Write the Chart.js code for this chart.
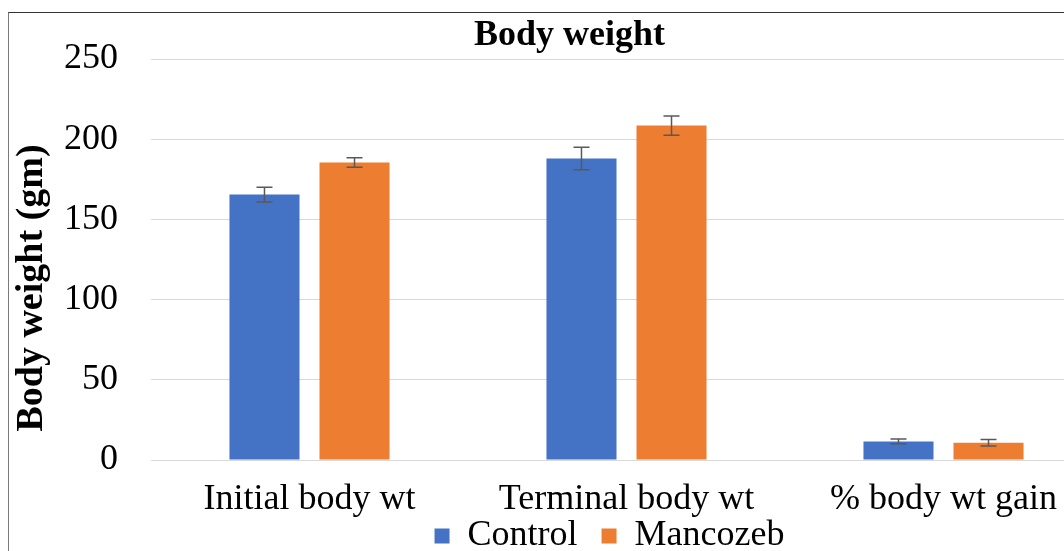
<!DOCTYPE html>
<html>
<head>
<meta charset="utf-8">
<title>Body weight</title>
<script src="https://cdn.jsdelivr.net/npm/chart.js@4.4.1/dist/chart.umd.min.js"></script>
<style>
    html, body { margin: 0; padding: 0; background: #fff; overflow: hidden; }
    #frame {
        position: absolute; left: 8px; top: 12px; width: 1200px; height: 700px;
        border-left: 1px solid #7a7a7a; border-top: 1px solid #333;
    }
    #weightChart { position: absolute; left: 0; top: 0; }
</style>
</head>
<body>
<div id="frame"></div>
<canvas id="weightChart" width="1139" height="590"></canvas>
<script>
// data
const categories = ["Initial body wt", "Terminal body wt", "% body wt gain"];
const controlValues = [165.5, 188, 11.6];
const controlErrors = [4.6, 7, 1.5];
const mancozebValues = [185.5, 208.5, 10.8];
const mancozebErrors = [3, 6, 2];
const yMin = 0;
const yMax = 250;
const yStep = 50;

const FONT = "'Liberation Serif', 'Times New Roman', serif";

// draws the +/- whiskers on top of each bar
const errorBars = {
    id: "errorBars",
    afterDatasetsDraw(chart) {
        const ctx = chart.ctx;
        const yScale = chart.scales.y;
        ctx.save();
        ctx.strokeStyle = "#595959";
        ctx.lineWidth = 1.5;
        chart.data.datasets.forEach((ds, i) => {
            const meta = chart.getDatasetMeta(i);
            meta.data.forEach((bar, j) => {
                const top = yScale.getPixelForValue(ds.data[j] + ds.errors[j]);
                const bottom = yScale.getPixelForValue(ds.data[j] - ds.errors[j]);
                ctx.beginPath();
                ctx.moveTo(bar.x, top);
                ctx.lineTo(bar.x, bottom);
                ctx.moveTo(bar.x - 8, top);
                ctx.lineTo(bar.x + 8, top);
                ctx.moveTo(bar.x - 8, bottom);
                ctx.lineTo(bar.x + 8, bottom);
                ctx.stroke();
            });
        });
        ctx.restore();
    }
};

// legend sits a bit right and tucked up under the axis labels in the original,
// and the y axis title is a bit below the middle
const layoutTweaks = {
    id: "layoutTweaks",
    afterLayout(chart) {
        chart.legend.left += 40;
        chart.legend.right += 40;
        chart.legend.top -= 26;
        chart.legend.bottom -= 26;
    },
    afterDraw(chart) {
        const ctx = chart.ctx;
        ctx.save();
        ctx.translate(32, 288);
        ctx.rotate(-Math.PI / 2);
        ctx.font = "bold 38px " + FONT;
        ctx.fillStyle = "#000";
        ctx.textAlign = "center";
        ctx.textBaseline = "middle";
        ctx.fillText("Body weight (gm)", 0, 0);
        ctx.restore();
    }
};

const ctx = document.getElementById("weightChart").getContext("2d");

new Chart(ctx, {
    type: "bar",
    data: {
        labels: categories,
        datasets: [
            {
                label: "Control",
                data: controlValues,
                errors: controlErrors,
                backgroundColor: "#4472C4",
                categoryPercentage: 0.568,
                barPercentage: 0.778
            },
            {
                label: "Mancozeb",
                data: mancozebValues,
                errors: mancozebErrors,
                backgroundColor: "#ED7D31",
                categoryPercentage: 0.568,
                barPercentage: 0.778
            }
        ]
    },
    options: {
        responsive: false,
        animation: false,
        devicePixelRatio: 1,
        layout: { padding: 0 },
        plugins: {
            title: {
                display: true,
                text: "Body weight",
                color: "#000",
                font: { family: FONT, size: 36, weight: "bold" },
                padding: { top: 14, bottom: 1.8 }
            },
            legend: {
                position: "bottom",
                labels: {
                    color: "#000",
                    font: { family: FONT, size: 36 },
                    boxWidth: 15,
                    boxHeight: 15,
                    padding: 24
                }
            },
            tooltip: { enabled: false }
        },
        scales: {
            x: {
                grid: { display: false, drawTicks: false },
                border: { display: false },
                ticks: {
                    color: "#000",
                    font: { family: FONT, size: 36 },
                    padding: 18,
                    maxRotation: 0,
                    autoSkip: false
                },
                afterFit(scale) { scale.height = 60; }
            },
            y: {
                min: yMin,
                max: yMax,
                grid: { color: "#d9d9d9", drawTicks: false },
                border: { display: false },
                ticks: {
                    stepSize: yStep,
                    color: "#000",
                    font: { family: FONT, size: 36 },
                    padding: 33
                },
                afterFit(scale) { scale.width = 151; }
            },
            right: {
                position: "right",
                display: true,
                grid: { display: false, drawTicks: false },
                border: { display: false },
                ticks: { display: false },
                afterFit(scale) { scale.width = 37; }
            }
        }
    },
    plugins: [errorBars, layoutTweaks]
});
</script>
</body>
</html>
